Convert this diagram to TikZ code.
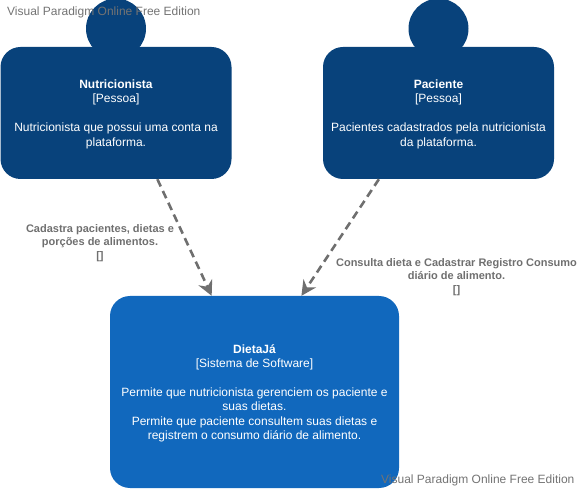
\documentclass[tikz,border=0pt]{standalone}
\usepackage{fontspec}
\setmainfont{Liberation Sans}
\usetikzlibrary{arrows.meta,positioning}
\definecolor{personblue}{HTML}{08427B}
\definecolor{systemblue}{HTML}{1168BD}
\definecolor{edgegray}{HTML}{6F6F6F}
\tikzset{box node/.style={rectangle,rounded corners=20pt,text=white,align=center,inner sep=0pt,text depth=-1.8pt,
             font=\fontsize{12}{14.4}\selectfont},
         person node/.style={box node,fill=personblue,minimum width=231pt,minimum height=132pt},
         system node/.style={box node,fill=systemblue,minimum width=289pt,minimum height=192pt},
         head node/.style={circle,fill=personblue,minimum size=60pt,inner sep=0pt},
         edge label/.style={rectangle,text=edgegray,align=center,inner sep=0pt,
             font=\fontsize{11}{13.6}\selectfont\bfseries},
         uses edge/.style={edgegray,line width=2.6pt,dash pattern=on 8pt off 5pt,-{Stealth[length=15pt,width=15pt,inset=5pt]}},
         watermark/.style={rectangle,inner sep=0pt,text=black!55,font=\fontsize{12}{14}\selectfont},
}

\begin{document}
\begin{tikzpicture}[x=1pt,y=1pt]
\useasboundingbox (0,0) rectangle (579,-489);
% people
\node [person node] (nutri) at (116,-113) {\textbf{Nutricionista}\\{}[Pessoa]\\[14.4pt]Nutricionista que possui uma conta na\\plataforma.};
\node [head node,above=-12pt of nutri] (nutrihead) {};
\node [person node] (paciente) at (438.5,-113) {\textbf{Paciente}\\{}[Pessoa]\\[14.4pt]Pacientes cadastrados pela nutricionista\\da plataforma.};
\node [head node,above=-12pt of paciente] (pacientehead) {};
% system
\node [system node] (dieta) at (254.5,-392) {\textbf{DietaJá}\\{}[Sistema de Software]\\[14.4pt]Permite que nutricionista gerenciem os paciente e\\suas dietas.\\Permite que paciente consultem suas dietas e\\registrem o consumo diário de alimento.};
% edges
\draw [uses edge] (nutri.-58) -- (dieta.114.4);
\draw [uses edge] (paciente.228.9) -- (dieta.64.2);
\node [edge label] (nutrilabel) at (100,-243) {Cadastra pacientes, dietas e\\porções de alimentos.\\{}[]};
\node [edge label] (pacientelabel) at (456.5,-277) {Consulta dieta e Cadastrar Registro Consumo\\diário de alimento.\\{}[]};
% watermarks
\node [watermark,anchor=west] (marktop) at (7,-12) {Visual Paradigm Online Free Edition};
\node [watermark,anchor=west] (markbottom) at (381,-480) {Visual Paradigm Online Free Edition};
\end{tikzpicture}
\end{document}
